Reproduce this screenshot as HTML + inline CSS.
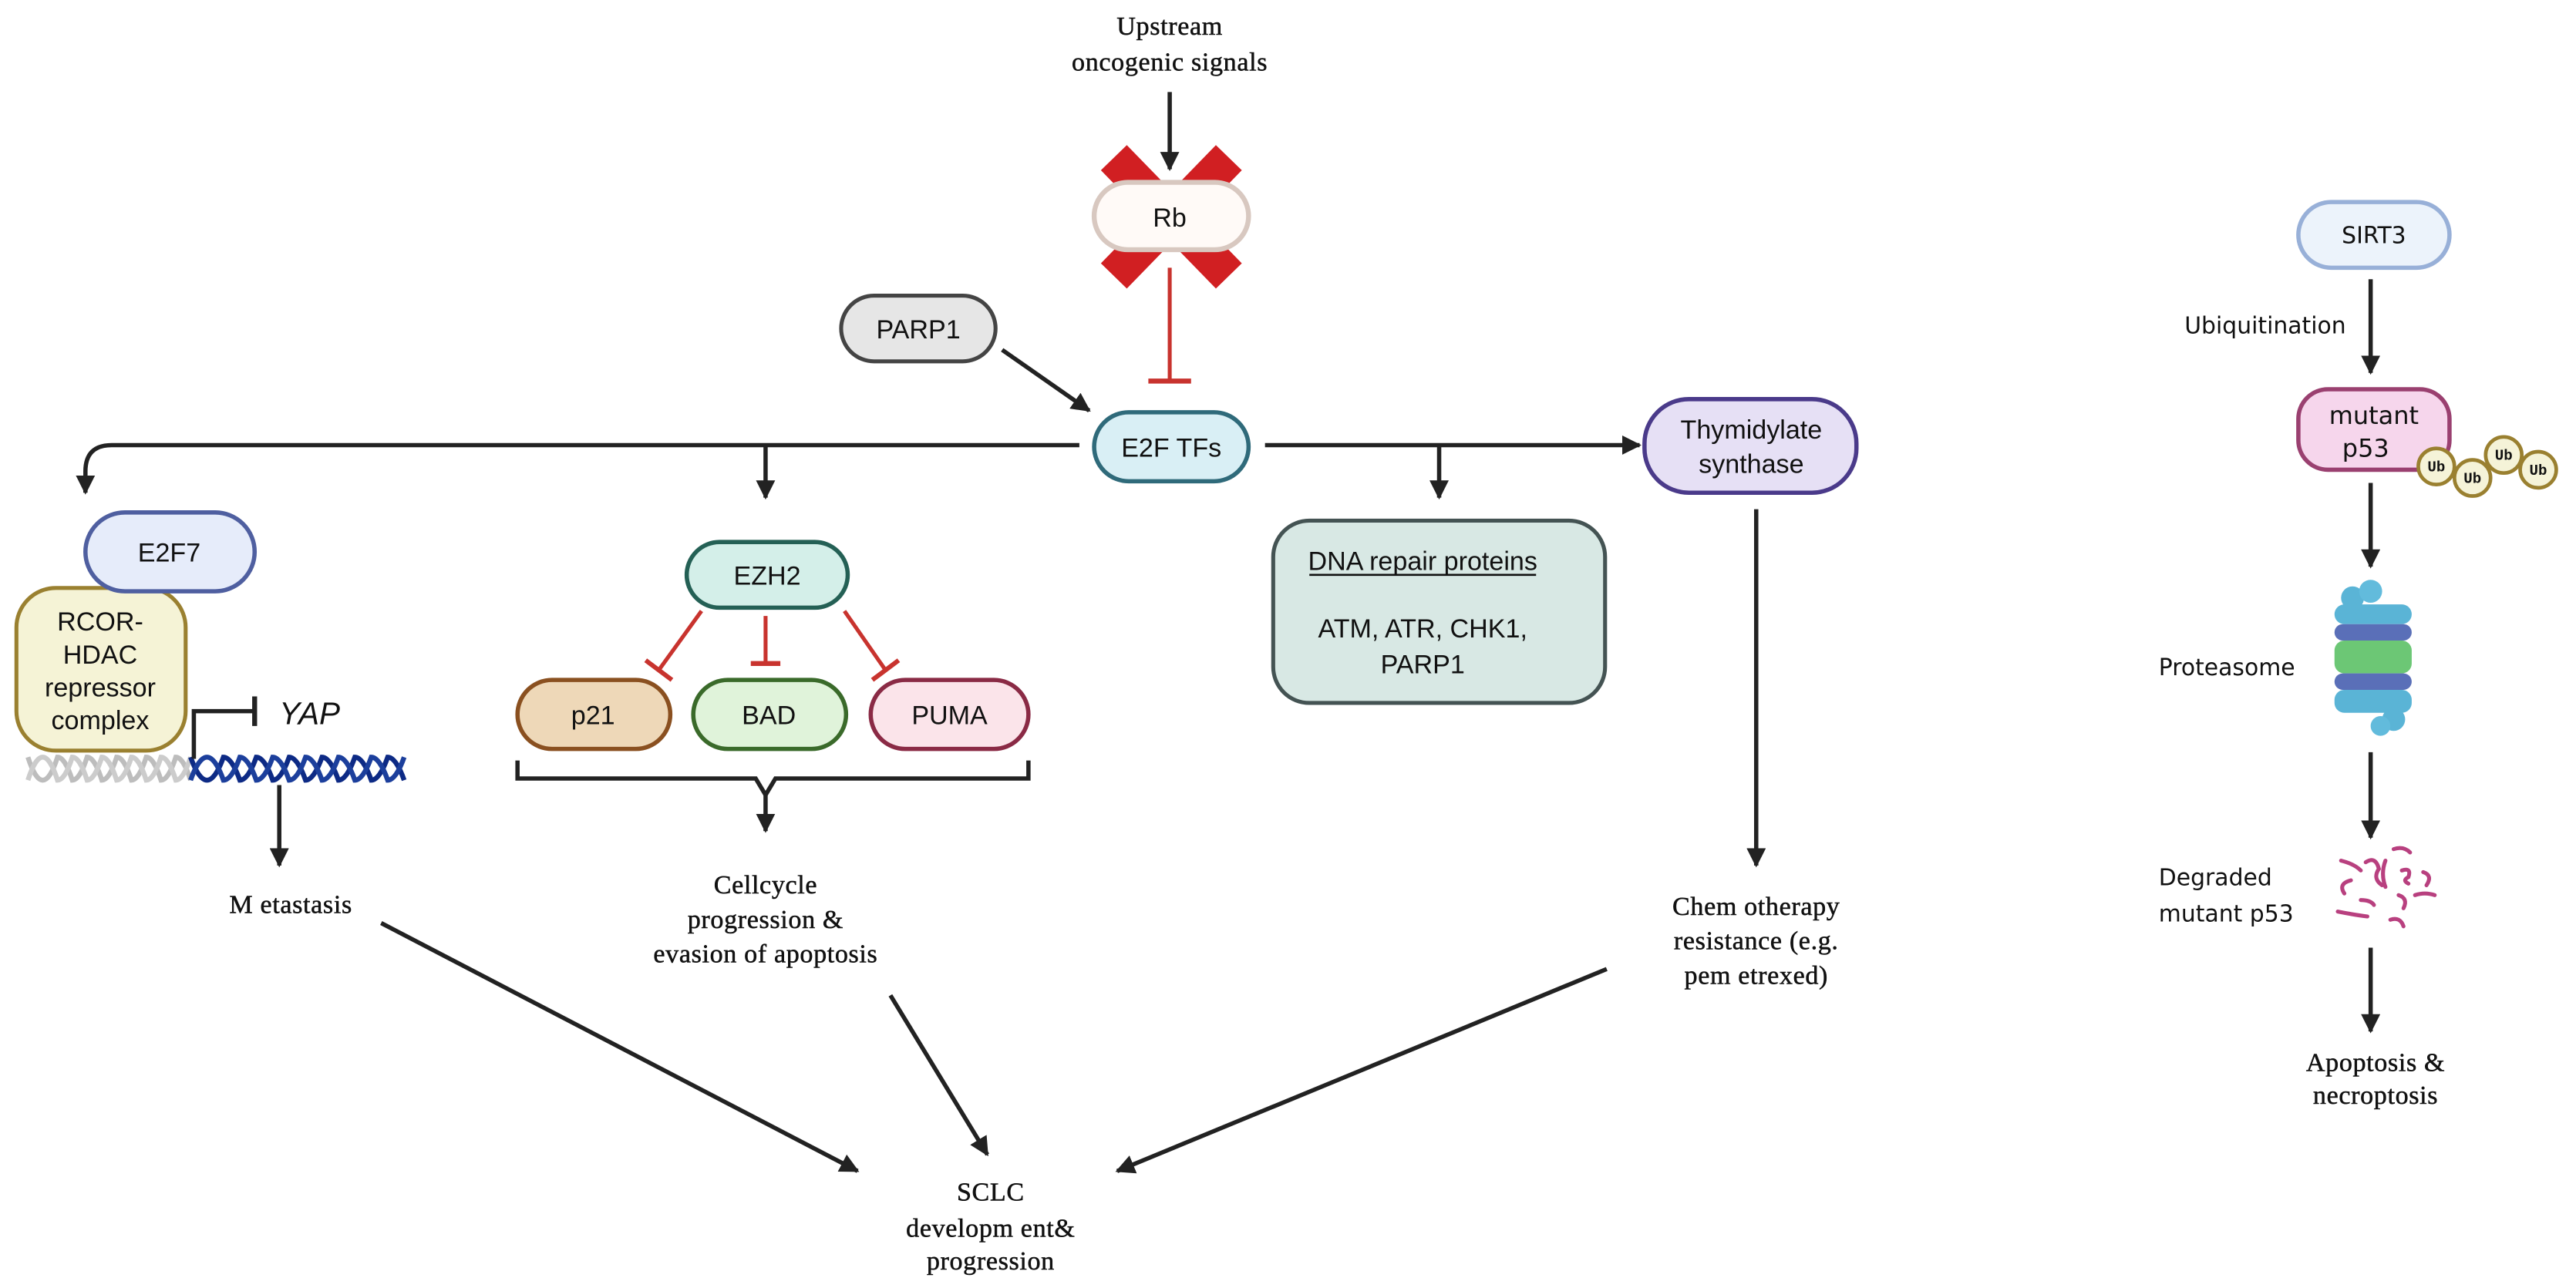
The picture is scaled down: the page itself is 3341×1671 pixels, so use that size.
<!DOCTYPE html>
<html><head><meta charset="utf-8"><style>
html,body{margin:0;padding:0;background:#fff}
svg{display:block}
.s{font-family:"Liberation Sans",sans-serif;font-size:16px;fill:#111;text-anchor:middle}
.w{font-family:"DejaVu Sans",sans-serif;font-size:14px;fill:#111}
.r{font-family:"Liberation Serif",serif;font-size:16px;fill:#111;text-anchor:middle;letter-spacing:0.3px;stroke:#111;stroke-width:0.25px}
</style></head><body>
<svg width="3341" height="1671" viewBox="0 0 1568 784.2" xmlns="http://www.w3.org/2000/svg">
<defs>
<marker id="a" viewBox="0 0 10 10" refX="9" refY="5" markerWidth="4.5" markerHeight="4.5" orient="auto" markerUnits="strokeWidth"><path d="M0,0L10,5L0,10z" fill="#222"/></marker>
</defs>
<g stroke="#222" stroke-width="2.6" fill="none">
<line x1="712" y1="56" x2="712" y2="103" marker-end="url(#a)"/>
</g>
<g stroke="#d11f22" stroke-width="22">
<line x1="678" y1="96" x2="748" y2="168"/>
<line x1="748" y1="96" x2="678" y2="168"/>
</g>
<rect x="666" y="111" width="94" height="41" rx="20.5" fill="#fffaf7" stroke="#d8c8c0" stroke-width="3"/>
<text class="s" x="712" y="138">Rb</text>
<text class="r" x="712" y="21">Upstream</text>
<text class="r" x="712" y="43">oncogenic signals</text>
<g stroke="#c8332e" stroke-width="2.4">
<line x1="712" y1="163" x2="712" y2="232"/>
<line x1="699" y1="232" x2="725" y2="232" stroke-width="3"/>
</g>
<rect x="512" y="180" width="94" height="40" rx="20" fill="#e6e6e6" stroke="#444" stroke-width="2.4"/>
<text class="s" x="559" y="206">PARP1</text>
<g stroke="#222" stroke-width="2.6" fill="none">
<line x1="610" y1="213" x2="663" y2="250" marker-end="url(#a)"/>
<path d="M657,271 H68 Q52,271 52,287 V300" marker-end="url(#a)"/>
<line x1="466" y1="271" x2="466" y2="303" marker-end="url(#a)"/>
<line x1="770" y1="271" x2="998" y2="271" marker-end="url(#a)"/>
<line x1="876" y1="271" x2="876" y2="303" marker-end="url(#a)"/>
<line x1="1069" y1="310" x2="1069" y2="527" marker-end="url(#a)"/>
<line x1="170" y1="478" x2="170" y2="527" marker-end="url(#a)"/>
<path d="M315,463 V474 H460 L466,484 L472,474 H626 V463"/>
<line x1="466" y1="484" x2="466" y2="506" marker-end="url(#a)"/>
<line x1="232" y1="562" x2="522" y2="713" marker-end="url(#a)"/>
<line x1="542" y1="606" x2="601" y2="703" marker-end="url(#a)"/>
<line x1="978" y1="590" x2="680" y2="713" marker-end="url(#a)"/>
<line x1="1443" y1="170" x2="1443" y2="227" marker-end="url(#a)"/>
<line x1="1443" y1="294" x2="1443" y2="345" marker-end="url(#a)"/>
<line x1="1443" y1="458" x2="1443" y2="510" marker-end="url(#a)"/>
<line x1="1443" y1="577" x2="1443" y2="628" marker-end="url(#a)"/>
</g>
<rect x="666" y="251" width="94" height="42" rx="21" fill="#d9eff5" stroke="#2f6a7a" stroke-width="2.6"/>
<text class="s" x="713" y="278">E2F TFs</text>
<rect x="1001" y="243" width="129" height="57" rx="27" fill="#e6e0f5" stroke="#4a3a8a" stroke-width="2.6"/>
<text class="s" x="1066" y="267">Thymidylate</text>
<text class="s" x="1066" y="288">synthase</text>
<rect x="775" y="317" width="202" height="111" rx="22" fill="#d8e8e4" stroke="#445353" stroke-width="2.4"/>
<text class="s" x="866" y="347">DNA repair proteins</text>
<line x1="797" y1="350" x2="935" y2="350" stroke="#111" stroke-width="1.2"/>
<text class="s" x="866" y="388">ATM, ATR, CHK1,</text>
<text class="s" x="866" y="410">PARP1</text>
<text class="r" x="1069" y="557">Chem otherapy</text>
<text class="r" x="1069" y="578">resistance (e.g.</text>
<text class="r" x="1069" y="599">pem etrexed)</text>
<rect x="10" y="358" width="103" height="99" rx="24" fill="#f5f3d6" stroke="#9a8030" stroke-width="2.4"/>
<text class="s" x="61" y="384">RCOR-</text>
<text class="s" x="61" y="404">HDAC</text>
<text class="s" x="61" y="424">repressor</text>
<text class="s" x="61" y="444">complex</text>
<rect x="52" y="312" width="103" height="48" rx="24" fill="#e6ecfa" stroke="#4f5fa0" stroke-width="2.6"/>
<text class="s" x="103" y="342">E2F7</text>
<g fill="none" stroke-width="3">
<path d="M17,461 q4.5,14 9,14 q4.5,0 9,-14 q4.5,-0 9,14 q4.5,0 9,-14 q4.5,0 9,14 q4.5,0 9,-14 q4.5,0 9,14 q4.5,0 9,-14 q4.5,0 9,14 q4.5,0 9,-14 q4.5,0 9,14" stroke="#bdbdbd"/>
<path d="M17,475 q4.5,-14 9,-14 q4.5,0 9,14 q4.5,0 9,-14 q4.5,0 9,14 q4.5,0 9,-14 q4.5,0 9,14 q4.5,0 9,-14 q4.5,0 9,14 q4.5,0 9,-14 q4.5,0 9,14 q4.5,0 9,-14" stroke="#cccccc"/>
<path d="M116,461 q5,14 10,14 q5,0 10,-14 q5,0 10,14 q5,0 10,-14 q5,0 10,14 q5,0 10,-14 q5,0 10,14 q5,0 10,-14 q5,0 10,14 q5,0 10,-14 q5,0 10,14 q5,0 10,-14 q5,0 10,14" stroke="#0d2a85"/>
<path d="M116,475 q5,-14 10,-14 q5,0 10,14 q5,0 10,-14 q5,0 10,14 q5,0 10,-14 q5,0 10,14 q5,0 10,-14 q5,0 10,14 q5,0 10,-14 q5,0 10,14 q5,0 10,-14 q5,0 10,14 q5,0 10,-14" stroke="#1c3f9c"/>
</g>
<path d="M118,462 V433 H155" fill="none" stroke="#222" stroke-width="2.6"/>
<line x1="155" y1="424" x2="155" y2="442" stroke="#222" stroke-width="3"/>
<text x="170" y="441" font-family="Liberation Sans,sans-serif" font-style="italic" font-size="19" fill="#111">YAP</text>
<text class="r" x="177" y="556">M etastasis</text>
<rect x="418" y="330" width="98" height="40" rx="20" fill="#d4efe9" stroke="#246055" stroke-width="2.6"/>
<text class="s" x="467" y="356">EZH2</text>
<g stroke="#c8332e" stroke-width="2.4">
<line x1="427" y1="372" x2="401" y2="408"/><line x1="393" y1="402" x2="409" y2="414" stroke-width="2.8"/>
<line x1="466" y1="375" x2="466" y2="404"/><line x1="457" y1="404" x2="475" y2="404" stroke-width="3"/>
<line x1="514" y1="372" x2="539" y2="408"/><line x1="531" y1="414" x2="547" y2="402" stroke-width="2.8"/>
</g>
<rect x="315" y="414" width="93" height="42" rx="21" fill="#eed8b8" stroke="#8a5020" stroke-width="2.6"/>
<text class="s" x="361" y="441">p21</text>
<rect x="422" y="414" width="93" height="42" rx="21" fill="#e0f3da" stroke="#3a6a2a" stroke-width="2.6"/>
<text class="s" x="468" y="441">BAD</text>
<rect x="530" y="414" width="96" height="42" rx="21" fill="#fbe4ea" stroke="#8a2a45" stroke-width="2.6"/>
<text class="s" x="578" y="441">PUMA</text>
<text class="r" x="466" y="544">Cellcycle</text>
<text class="r" x="466" y="565">progression &amp;</text>
<text class="r" x="466" y="586">evasion of apoptosis</text>
<text class="r" x="603" y="731">SCLC</text>
<text class="r" x="603" y="753">developm ent&amp;</text>
<text class="r" x="603" y="773">progression</text>
<rect x="1399" y="123" width="92" height="40" rx="20" fill="#ecf3fb" stroke="#98b0d8" stroke-width="2.6"/>
<text class="w" x="1445" y="148" text-anchor="middle">SIRT3</text>
<text class="w" x="1428" y="203" text-anchor="end">Ubiquitination</text>
<rect x="1399" y="237" width="92" height="49" rx="18" fill="#f6d6ec" stroke="#9a4070" stroke-width="2.6"/>
<text class="w" x="1445" y="258" text-anchor="middle" style="font-size:15px">mutant</text>
<text class="w" x="1440" y="278" text-anchor="middle" style="font-size:15px">p53</text>
<g fill="#f5f3d8" stroke="#9a8030" stroke-width="2.2">
<circle cx="1483" cy="284" r="11"/><circle cx="1505" cy="291" r="11"/><circle cx="1524" cy="277" r="11"/><circle cx="1545" cy="286" r="11"/>
</g>
<g font-family="Liberation Mono,monospace" font-size="9" font-weight="bold" fill="#111" text-anchor="middle">
<text x="1483" y="287">Ub</text><text x="1505" y="294">Ub</text><text x="1524" y="280">Ub</text><text x="1545" y="289">Ub</text>
</g>
<text class="w" x="1314" y="411">Proteasome</text>
<g>
<rect x="1421" y="368" width="47" height="12" rx="6" fill="#5ab4d6"/>
<circle cx="1432" cy="364" r="7" fill="#5ab4d6"/><circle cx="1443" cy="360" r="7" fill="#62bbdc"/>
<rect x="1421" y="380" width="47" height="10" rx="5" fill="#5a6fb8"/>
<rect x="1421" y="390" width="47" height="20" rx="6" fill="#6cc775"/>
<rect x="1421" y="410" width="47" height="10" rx="5" fill="#5a6fb8"/>
<rect x="1421" y="420" width="47" height="14" rx="6" fill="#5ab4d6"/>
<circle cx="1457" cy="438" r="7" fill="#5ab4d6"/><circle cx="1449" cy="442" r="6" fill="#62bbdc"/>
</g>
<text class="w" x="1314" y="539">Degraded</text>
<text class="w" x="1314" y="561">mutant p53</text>
<g fill="none" stroke="#b8407f" stroke-width="2.4" stroke-linecap="round">
<path d="M1425,524 q8,2 12,6"/><path d="M1431,536 q-8,2 -4,8"/><path d="M1440,525 q6,-4 8,4 q-4,6 2,10"/>
<path d="M1452,524 q-3,8 0,16"/><path d="M1457,517 q6,-2 10,2"/><path d="M1462,530 q6,-2 4,4 q-4,2 0,4"/>
<path d="M1475,531 q6,2 2,8"/><path d="M1460,545 q6,2 3,8"/><path d="M1470,545 q6,-2 12,0"/>
<path d="M1423,555 q10,2 18,3"/><path d="M1437,548 q6,0 8,3"/><path d="M1455,560 q6,-2 8,4"/>
</g>
<text class="r" x="1446" y="652">Apoptosis &amp;</text>
<text class="r" x="1446" y="672">necroptosis</text>
</svg>
</body></html>
